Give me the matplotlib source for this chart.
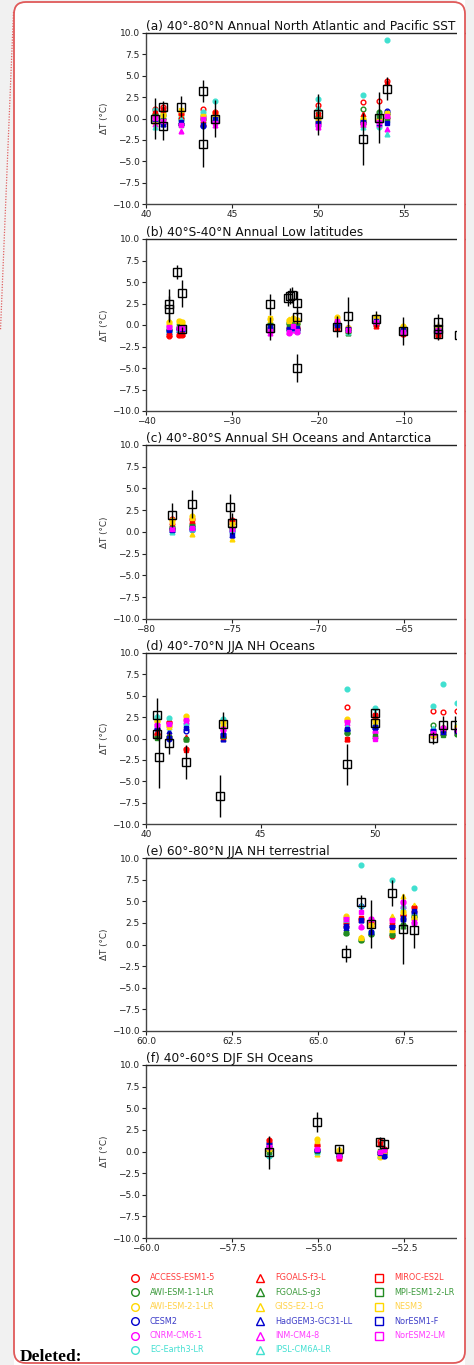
import numpy as np
import matplotlib
matplotlib.use('Agg')
import matplotlib.pyplot as plt
from matplotlib.lines import Line2D
from matplotlib.patches import FancyBboxPatch, Rectangle

models = ['ACCESS-ESM1-5', 'AWI-ESM-1-1-LR', 'AWI-ESM-2-1-LR', 'CESM2', 'CNRM-CM6-1', 'EC-Earth3-LR',
          'FGOALS-f3-L', 'FGOALS-g3', 'GISS-E2-1-G', 'HadGEM3-GC31-LL', 'INM-CM4-8', 'IPSL-CM6A-LR',
          'MIROC-ES2L', 'MPI-ESM1-2-LR', 'NESM3', 'NorESM1-F', 'NorESM2-LM']

titles = ['(a) 40°-80°N Annual North Atlantic and Pacific SST',
          '(b) 40°S-40°N Annual Low latitudes',
          '(c) 40°-80°S Annual SH Oceans and Antarctica',
          '(d) 40°-70°N JJA NH Oceans',
          '(e) 60°-80°N JJA NH terrestrial',
          '(f) 40°-60°S DJF SH Oceans']

# ---- (a)
a_site_lat = [40.5, 41.0, 42.05, 43.33, 44.0, 50.0, 52.6, 53.57, 54.0]
a_models = [
    [1.1, 0.5, 0.3, -0.3, 0.2, 1.0, 0.8, 0.1, -0.4, -0.1, -0.6, -1.0, 0.6, 0.3, -0.2, 0.0, 0.1],
    [1.3, 0.4, 0.6, -0.5, 0.0, 0.9, 1.2, 0.2, 0.5, -0.7, -0.2, 0.3, 1.0, -0.1, 0.4, -0.6, -0.3],
    [0.5, 0.0, 0.9, -0.6, -0.7, 0.2, 0.3, -0.3, 0.7, -0.5, -1.5, 0.0, 0.6, -0.8, 1.0, -0.4, -0.8],
    [1.1, 0.0, 0.4, -0.9, 0.2, 0.8, -0.5, -0.2, 0.1, -0.6, 0.5, 0.6, -0.6, -0.1, 0.3, -0.8, 0.0],
    [0.8, 0.3, 0.6, -0.4, -0.3, 2.0, 0.7, 0.1, 0.5, -0.2, -0.8, 0.4, 0.6, 0.0, 0.2, -0.1, -0.5],
    [1.6, 1.0, 0.2, -0.4, -0.7, 2.3, 0.9, 0.5, -0.2, -0.6, -1.0, 1.2, 0.3, 0.0, -0.3, -0.5, -0.9],
    [1.9, 1.1, 0.0, -0.3, -0.5, 2.8, 0.5, -0.4, -0.1, -0.2, -0.8, -1.0, -0.6, -0.3, 0.0, -0.4, -0.6],
    [2.0, 0.8, 0.0, -0.3, -0.4, -1.0, 0.6, 0.8, 0.1, -0.5, -0.6, 0.5, -0.2, 0.3, -0.3, -0.5, -0.4],
    [4.4, 0.6, 0.5, 0.9, 0.2, 9.2, 4.3, 0.3, 0.7, 0.8, -1.2, -1.8, 0.1, -0.2, 0.6, -0.5, 0.3],
]
a_proxy_lat = [40.5, 41.0, 41.0, 42.05, 43.33, 43.33, 44.0, 50.0, 52.6, 53.57, 54.0]
a_proxy_val = [0.0, 1.4, -0.9, 1.4, 3.2, -3.0, 0.0, 0.5, -2.4, 0.1, 3.5]
a_proxy_err = [2.4, 0.6, 1.6, 1.2, 1.3, 2.7, 2.2, 2.4, 3.0, 3.0, 1.3]

# ---- (b)
b_site_lat = [-37.33, -36.2, -35.8, -25.58, -23.4, -22.9, -22.4, -17.75, -16.55, -13.2, -10.16, -6.0]
b_models = [
    [-1.3, -0.6, 0.4, -0.7, -0.1, -0.9, -1.1, -0.4, 0.3, -0.8, -0.2, -0.5, -1.2, -0.3, 0.2, -0.6, -0.2],
    [-1.2, -0.3, 0.5, -0.5, -0.4, -0.7, -1.1, -0.2, 0.4, -0.6, -0.3, -0.5, -1.2, 0.0, 0.5, -0.4, -0.3],
    [-1.2, -0.2, 0.4, -0.6, -0.3, -0.7, -1.0, 0.0, 0.3, -0.5, -0.4, -0.6, -1.1, -0.1, 0.4, -0.5, -0.4],
    [-0.6, 0.1, 0.7, -0.3, -0.8, -0.6, -0.5, 0.2, 0.6, -0.4, -0.9, -0.5, -0.3, 0.0, 0.8, -0.2, -0.7],
    [-0.5, 0.2, 0.6, -0.4, -0.9, -0.6, -0.3, 0.3, 0.7, -0.3, -0.8, -0.4, -0.2, 0.1, 0.5, -0.5, -0.8],
    [-0.3, 0.3, 0.8, -0.2, -0.1, -0.4, -0.2, 0.2, 0.6, -0.3, -0.6, -0.3, 0.0, 0.2, 0.7, -0.4, -0.1],
    [-0.4, 0.2, 0.6, -0.5, -0.8, -0.7, -0.3, 0.3, 0.5, -0.4, -0.7, -0.6, -0.2, 0.1, 0.6, -0.3, -0.7],
    [-0.2, 0.3, 0.9, 0.1, 0.4, 0.0, -0.3, 0.5, 0.8, 0.2, 0.3, -0.1, -0.3, 0.2, 0.7, 0.0, 0.5],
    [-0.5, -0.8, -0.3, -0.4, -0.6, -0.7, -0.6, -0.9, -0.2, -0.3, -0.5, -0.8, -0.4, -0.7, -0.3, -0.5, -0.6],
    [0.0, 0.4, 0.9, 0.3, 0.3, 0.2, -0.1, 0.5, 0.8, 0.4, 0.2, 0.1, 0.0, 0.6, 0.9, 0.5, 0.3],
    [-1.0, -0.5, -0.1, -0.6, -0.7, -0.8, -0.9, -0.4, -0.2, -0.5, -0.6, -0.7, -1.0, -0.3, -0.2, -0.6, -0.8],
    [-1.2, -0.6, -0.2, -0.5, -0.7, -0.9, -1.1, -0.4, -0.3, -0.6, -0.8, -1.0, -1.3, -0.5, -0.2, -0.7, -0.6],
]
b_proxy_lat = [-37.33, -37.33, -36.36, -35.81, -35.81, -25.58, -25.58, -23.53, -23.26, -23.0, -22.4, -22.4,
               -22.4, -17.75, -16.55, -13.2, -10.16, -6.0, -6.0, -6.0, -3.6]
b_proxy_val = [2.4, 1.9, 6.2, 3.7, -0.5, 2.4, -0.4, 3.1, 3.4, 3.5, 2.6, 0.9,
               -5.0, -0.2, 1.1, 0.7, -0.7, 0.3, -0.5, -1.0, -1.2]
b_proxy_err = [1.8, 1.5, 0.8, 1.55, 0.3, 1.2, 1.35, 0.9, 0.9, 0.9, 1.4, 0.8,
               1.6, 1.2, 2.1, 0.9, 1.6, 1.0, 0.8, 0.7, 0.5]

# ---- (c)
c_site_lat = [-78.51, -77.34, -75.0]
c_models = [
    [1.5, 0.6, 1.4, 0.3, 0.4, 0.1, 1.2, 0.7, 0.5, 0.2, 0.3, 0.0, 0.9, 0.5, 1.1, 0.2, 0.4],
    [1.5, 0.8, 1.8, 0.4, 0.5, 0.6, 1.3, 0.9, -0.2, 0.3, 0.6, 0.4, 1.2, 0.7, 1.6, 0.5, 0.5],
    [1.4, 0.6, 1.0, 0.1, 0.3, 0.2, 1.2, 0.7, -0.8, -0.3, 0.4, 0.1, 1.1, 0.5, 0.9, -0.3, 0.3],
]
c_proxy_lat = [-78.51, -77.34, -75.12, -75.0]
c_proxy_val = [1.95, 3.2, 2.9, 1.0]
c_proxy_err = [1.4, 1.6, 1.5, 1.2]

# ---- (d)
d_site_lat = [40.49, 40.99, 41.74, 43.34, 48.78, 49.99, 52.53, 52.97, 53.54]
d_models = [
    [0.5, 0.2, 2.0, 1.1, 1.6, 2.5, 0.8, 0.3, 2.3, 1.4, 1.9, 2.6, 0.4, 0.1, 2.1, 1.2, 1.6],
    [1.9, 0.2, 1.5, 0.0, 1.8, 2.4, 0.5, 0.3, 1.6, 0.9, 0.3, 1.3, 1.8, 0.2, 1.4, 0.1, 1.7],
    [-1.2, -0.1, 2.6, 0.9, 2.2, 1.7, 0.2, -0.1, 2.4, 1.4, 2.0, 1.6, -1.3, 0.0, 2.5, 1.2, 2.2],
    [0.2, 0.2, 1.9, 0.5, 1.0, 2.3, 0.3, 0.1, 1.7, 0.0, 1.2, 2.0, 0.2, 0.3, 1.8, 0.4, 1.1],
    [3.7, 0.7, 2.3, 1.0, 2.0, 5.8, 0.0, 0.9, 1.5, 1.2, 1.8, 1.5, 0.0, 0.8, 2.2, 1.1, 1.9],
    [2.8, 1.5, 2.2, 1.2, 0.8, 3.6, 2.6, 0.3, 2.0, 1.4, 0.5, 3.0, 2.7, 0.3, 2.1, 1.3, 0.0],
    [3.2, 1.6, 0.3, 1.0, 0.5, 3.8, 0.9, 0.7, 0.6, 0.8, 0.4, 1.2, 0.6, 0.5, 0.4, 0.9, 0.7],
    [3.1, 0.5, 1.0, 0.9, 1.2, 6.4, 1.4, 0.7, 1.1, 1.0, 0.8, 1.3, 1.2, 0.4, 0.9, 0.8, 1.2],
    [3.2, 0.5, 1.5, 0.9, 1.0, 4.2, 1.3, 0.6, 1.4, 1.1, 0.8, 1.6, 1.2, 0.5, 1.3, 0.9, 1.0],
]
d_proxy_lat = [40.49, 40.49, 40.58, 40.99, 41.74, 43.23, 43.34, 48.78, 49.99, 49.99, 52.53, 52.97, 53.49]
d_proxy_val = [2.8, 0.5, -2.2, -0.5, -2.75, -6.7, 1.65, -3.0, 3.0, 1.8, 0.1, 1.6, 1.6]
d_proxy_err = [1.9, 0.6, 3.6, 1.3, 2.0, 2.45, 1.5, 2.4, 0.5, 0.6, 0.7, 1.0, 1.0]

# ---- (e)
e_site_lat = [65.8, 66.26, 66.53, 67.16, 67.48, 67.78]
e_models = [
    [2.5, 1.3, 3.3, 2.0, 3.1, 2.8, 2.4, 1.4, 3.2, 1.9, 3.0, 2.7, 2.3, 1.3, 3.1, 2.1, 3.0],
    [3.0, 0.5, 0.8, 4.5, 2.0, 9.2, 2.9, 0.6, 0.9, 2.8, 2.1, 4.6, 3.1, 0.5, 0.8, 2.8, 3.7],
    [2.5, 1.2, 2.2, 1.4, 3.0, 1.5, 2.4, 1.3, 2.3, 1.5, 2.9, 1.6, 2.6, 1.2, 2.2, 1.4, 2.9],
    [1.0, 1.2, 1.6, 2.1, 2.9, 7.5, 2.5, 1.3, 3.3, 2.2, 2.7, 2.4, 2.6, 1.1, 1.7, 2.0, 2.8],
    [3.4, 2.2, 3.7, 3.0, 4.9, 4.3, 3.6, 2.1, 5.6, 2.9, 4.5, 4.2, 3.3, 2.3, 3.8, 3.1, 4.9],
    [4.3, 3.3, 3.0, 3.8, 2.5, 6.5, 4.1, 3.4, 4.6, 3.7, 2.8, 3.5, 4.2, 3.2, 3.1, 3.9, 2.6],
]
e_proxy_lat = [65.8, 66.26, 66.53, 67.16, 67.48, 67.78]
e_proxy_val = [-1.0, 4.9, 2.4, 5.9, 1.8, 1.7]
e_proxy_err = [1.0, 0.8, 2.8, 1.5, 4.0, 2.1]

# ---- (f)
f_site_lat = [-56.41, -55.02, -54.4, -53.2, -53.08]
f_models = [
    [1.3, 0.2, 0.2, 1.0, 0.6, -0.5, 1.1, 0.3, 0.1, 0.9, 0.7, -0.4, 1.2, 0.0, 0.3, 0.8, 0.5],
    [0.8, 0.1, 1.5, 0.2, 0.3, 0.0, 0.9, 0.2, -0.3, 0.3, 0.4, -0.1, 0.7, 0.1, 1.2, 0.2, 0.3],
    [-0.6, -0.2, 0.2, -0.4, -0.5, -0.3, -0.7, -0.1, 0.1, -0.3, -0.6, -0.2, -0.7, -0.2, 0.0, -0.4, -0.5],
    [1.2, -0.1, -0.6, -0.2, 0.0, -0.3, 1.0, 0.0, -0.5, -0.1, 0.1, -0.4, 0.9, 0.1, -0.4, -0.2, 0.0],
    [0.3, -0.2, -0.1, -0.5, 0.2, -0.3, 0.2, -0.1, 0.0, -0.4, 0.1, -0.2, 0.3, -0.2, 0.0, -0.5, 0.2],
]
f_proxy_lat = [-56.41, -55.02, -54.4, -53.2, -53.08]
f_proxy_val = [-0.1, 3.4, 0.3, 1.1, 0.9]
f_proxy_err = [1.9, 1.2, 0.3, 0.6, 0.5]

# styles
base_cols = ['#ff0000', '#228b22', '#ffd700', '#0000cd', '#ff00ff', '#40e0d0']
text_cols = ['#ff3b3b', '#3c9a3c', '#ffd24a', '#3c3cc8', '#ff3cff', '#44e0d2']
model_col = base_cols * 2 + base_cols[:5]
model_txt = text_cols * 2 + text_cols[:5]
model_mk = ['o'] * 6 + ['^'] * 6 + ['s'] * 5
model_fill = [False, False, True, False, True, True,
              True, True, True, True, True, True,
              True, True, True, True, True]

# only the ticks that fall inside the visible (cropped) part of each panel
panels = [
    (a_site_lat, a_models, a_proxy_lat, a_proxy_val, a_proxy_err, (40, 60), [40, 45, 50, 55]),
    (b_site_lat, b_models, b_proxy_lat, b_proxy_val, b_proxy_err, (-40, 0), [-40, -30, -20, -10]),
    (c_site_lat, c_models, c_proxy_lat, c_proxy_val, c_proxy_err, (-80, -60), [-80, -75, -70, -65]),
    (d_site_lat, d_models, d_proxy_lat, d_proxy_val, d_proxy_err, (40, 55), [40, 45, 50]),
    (e_site_lat, e_models, e_proxy_lat, e_proxy_val, e_proxy_err, (60, 70), [60, 62.5, 65, 67.5]),
    (f_site_lat, f_models, f_proxy_lat, f_proxy_val, f_proxy_err, (-60, -50), [-60, -57.5, -55, -52.5]),
]

W, H = 474, 1365
fig = plt.figure(figsize=(W / 100, H / 100), dpi=100)
fig.patch.set_facecolor('#f1f1f1')

# page box
fig.patches.append(FancyBboxPatch((14 / W, -20 / H), 451 / W, (H + 20 - 3) / H,
                                  boxstyle='round,pad=0,rounding_size=0.025', transform=fig.transFigure,
                                  facecolor='white', edgecolor='none', zorder=-5, mutation_aspect=W / H))

tops = [33, 239, 445, 653, 858, 1065]
bots = [204, 411, 619, 824, 1031, 1238]
for i, (sl, mv, pl, pv, pe, xl, xt) in enumerate(panels):
    ax = fig.add_axes([146 / W, 1 - bots[i] / H, 344 / W, (bots[i] - tops[i]) / H])
    mv = np.array(mv)
    for m in range(len(models)):
        ax.plot(sl, mv[:, m], ls='none', marker=model_mk[m], ms=3.4, mew=1.0,
                mec=model_col[m], mfc=model_col[m] if model_fill[m] else 'none', zorder=2)
    ax.errorbar(pl, pv, yerr=pe, fmt='s', ms=6, mfc='none', mec='black', mew=1.0,
                ecolor='black', elinewidth=1.0, capsize=0, zorder=3)
    ax.set_xlim(xl)
    ax.set_ylim(-10, 10)
    ax.set_xticks(xt)
    ax.set_yticks(np.arange(-10, 10.1, 2.5))
    ax.tick_params(labelsize=6.5, length=3, width=0.8, colors='#222222', pad=1.5)
    for s in ax.spines.values():
        s.set_color('#444444')
        s.set_linewidth(1.0)
    ax.spines['top'].set_color('#222222')
    ax.set_ylabel('ΔT (°C)', fontsize=6.3, color='#333333', labelpad=2)
    ax.set_title(titles[i], loc='left', fontsize=8.8, pad=1.0, color='#111111')

# cover the cropped right part of the plots
fig.patches.append(Rectangle((457 / W, 0), 8 / W, 1, transform=fig.transFigure,
                             facecolor='white', edgecolor='none', zorder=5))
fig.patches.append(Rectangle((465.5 / W, 0), 9 / W, 1, transform=fig.transFigure,
                             facecolor='#f1f1f1', edgecolor='none', zorder=5))
fig.patches.append(FancyBboxPatch((14 / W, 2 / H), 451 / W, (H - 4) / H,
                                  boxstyle='round,pad=0,rounding_size=0.025', transform=fig.transFigure,
                                  facecolor='none', edgecolor='#e05a5a', lw=1.3, zorder=6,
                                  mutation_aspect=W / H))
fig.lines.append(Line2D([13.5 / W, 0.5 / W], [1 - 12 / H, 1 - 330 / H], transform=fig.transFigure,
                        color='#e06060', lw=0.9, ls=(0, (1, 1.2)), zorder=6))

# legend, laid out as three columns (6, 6, 5 rows)
lax = fig.add_axes([0, 0, 1, 1], zorder=4)
lax.set_xlim(0, W)
lax.set_ylim(H, 0)
lax.axis('off')
col_x = [135, 260, 379]
for m, name in enumerate(models):
    c, r = divmod(m, 6)
    y = 1278 + r * 14.4
    lax.plot(col_x[c], y, ls='none', marker=model_mk[m], ms=5.5, mew=1.0, mfc='none', mec=model_col[m])
    lax.text(col_x[c] + 15, y, name, color=model_txt[m], fontsize=5.9, va='center', ha='left')

fig.text(20 / W, 1 - 1357 / H, 'Deleted:', fontfamily='Liberation Serif', fontweight='bold',
         fontsize=12.5, va='center', ha='left', color='black')

plt.savefig('out.png', dpi=100, facecolor=fig.get_facecolor())
